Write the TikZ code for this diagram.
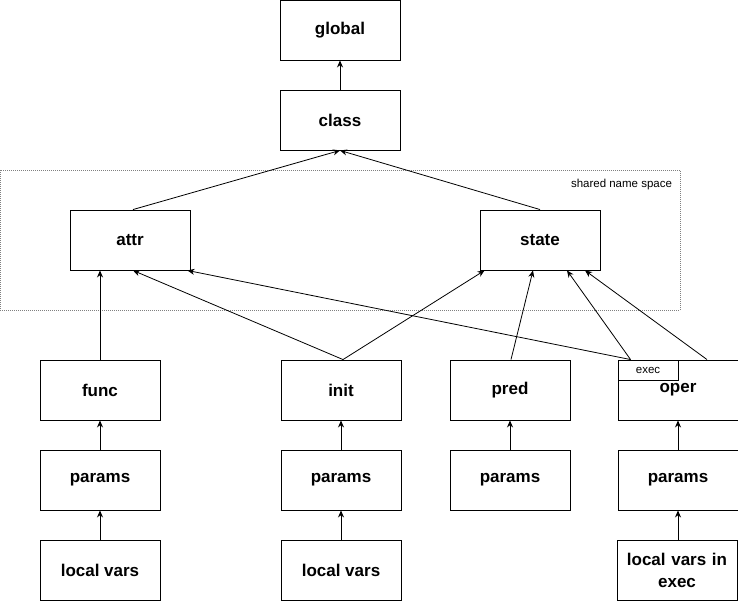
\documentclass[tikz,border=0pt]{standalone}
\usepackage{fontspec}
\setmainfont{Liberation Sans}
\usetikzlibrary{arrows.meta}
\tikzset{
  box/.style={draw, line width=0.9pt, minimum width=120pt, minimum height=60pt,
    font=\fontsize{17}{22}\selectfont\bfseries, align=center, inner sep=2pt},
  tag/.style={draw, line width=0.9pt, minimum width=60pt, minimum height=20pt,
    font=\fontsize{11.5}{13}\selectfont, inner sep=0pt},
  dep/.style={line width=0.8pt, -{Stealth[length=7pt,width=6pt]}}
}
\begin{document}
\begin{tikzpicture}[x=1pt, y=-1pt]
    \useasboundingbox (0,0) rectangle (738,605);

        % shared name space
        \node (space) [draw=gray, dash pattern=on 1pt off 1pt, minimum width=680pt, minimum height=140pt] at (340,240) {};
        \node (spacelbl) [anchor=north east, font=\fontsize{11.5}{13}\selectfont, inner sep=0pt] at ([shift={(-8,9)}]space.north east) {shared name space};

        \node (global) [box] at (340,30) {global};
        \node (class) [box] at (340,120) {class};
        \node (attr) [box] at (130,240) {attr};
        \node (state) [box] at (540,240) {state};

        \node (func) [box] at (100,390) {func};
        \node (init) [box] at (341,390) {init};
        \node (pred) [box] at (510,390) {pred};
        \node (oper) [box] at (678,390) {oper};
        \node (exec) [tag, anchor=north west] at (oper.north west) {exec};

        \node (fparams) [box] at (100,480) {params};
        \node (iparams) [box] at (341,480) {params};
        \node (pparams) [box] at (510,480) {params};
        \node (oparams) [box] at (678,480) {params};

        \node (flocal) [box] at (100,570) {local vars};
        \node (ilocal) [box] at (341,570) {local vars};
        \node (olocal) [box, text width=114pt] at (677,570) {local vars in\\exec};

        \draw[dep] (class) -- (global);
        \draw[dep] ([xshift=3]attr.north) -- (class.south);
        \draw[dep] (state.north) -- (class.south);

        \draw[dep] (func) -- (attr.south -| func);
        \draw[dep] ([xshift=2]init.north) -- ([xshift=3]attr.south);
        \draw[dep] ([xshift=2]init.north) -- ([xshift=5]state.south west);
        \draw[dep] ([xshift=1]pred.north) -- ([xshift=-7]state.south);
        \draw[dep] ([xshift=13]exec.north west) -- ([xshift=-3]attr.south east);
        \draw[dep] ([xshift=13]exec.north west) -- ([xshift=27]state.south);
        \draw[dep] ([xshift=29]oper.north) -- ([xshift=45]state.south);

        \draw[dep] (fparams) -- (func);
        \draw[dep] (iparams) -- (init);
        \draw[dep] (pparams) -- (pred);
        \draw[dep] (oparams) -- (oper);

        \draw[dep] (flocal) -- (fparams);
        \draw[dep] (ilocal) -- (iparams);
        \draw[dep] (olocal.north -| oparams) -- (oparams);

    \end{tikzpicture}
\end{document}
